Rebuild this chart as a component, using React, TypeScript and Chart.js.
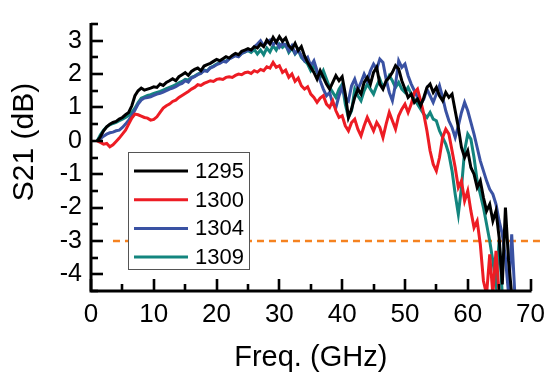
import { useEffect, useRef } from "react";
import { Chart, registerables } from "chart.js";

Chart.register(...registerables);

// Frequency samples (GHz)
const freqGHz = [
  1.0, 1.5, 2.0, 2.5, 3.0, 3.5, 4.0, 4.5, 5.0,
  5.5, 6.0, 6.5, 7.0, 7.5, 8.0, 8.5, 9.0, 9.5, 10.0,
  10.5, 11.0, 11.5, 12.0, 12.5, 13.0, 13.5, 14.0, 14.5, 15.0,
  15.5, 16.0, 16.5, 17.0, 17.5, 18.0, 18.5, 19.0, 19.5, 20.0,
  20.5, 21.0, 21.5, 22.0, 22.5, 23.0, 23.5, 24.0, 24.5, 25.0,
  25.5, 26.0, 26.5, 27.0, 27.5, 28.0, 28.5, 29.0, 29.5, 30.0,
  30.5, 31.0, 31.5, 32.0, 32.5, 33.0, 33.5, 34.0, 34.5, 35.0,
  35.5, 36.0, 36.5, 37.0, 37.5, 38.0, 38.5, 39.0, 39.5, 40.0,
  40.5, 41.0, 41.5, 42.0, 42.5, 43.0, 43.5, 44.0, 44.5, 45.0,
  45.5, 46.0, 46.5, 47.0, 47.5, 48.0, 48.5, 49.0, 49.5, 50.0,
  50.5, 51.0, 51.5, 52.0, 52.5, 53.0, 53.5, 54.0, 54.5, 55.0,
  55.5, 56.0, 56.5, 57.0, 57.5, 58.0, 58.5, 59.0, 59.5, 60.0,
  60.5, 61.0, 61.5, 62.0, 62.5, 63.0, 63.5, 64.0, 64.5, 65.0,
  65.5, 66.0, 66.5, 67.0, 67.5,
];

// S21 (dB) per device
const s21_1295 = [
  0.00, 0.12, 0.30, 0.42, 0.50, 0.55, 0.58, 0.65, 0.70,
  0.78, 0.85, 1.05, 1.35, 1.50, 1.58, 1.52, 1.55, 1.58, 1.62,
  1.60, 1.70, 1.66, 1.75, 1.80, 1.86, 1.80, 1.92, 1.98, 2.04,
  1.96, 2.08, 2.14, 2.18, 2.10, 2.24, 2.28, 2.32, 2.38, 2.44,
  2.40, 2.46, 2.52, 2.48, 2.56, 2.62, 2.58, 2.68, 2.72, 2.76,
  2.72, 2.82, 2.78, 2.90, 2.82, 3.02, 2.90, 3.10, 2.95, 3.12,
  2.98, 3.08, 2.85, 2.75, 2.92, 2.70, 2.82, 2.55, 2.35, 2.20,
  2.05, 1.85, 2.10, 1.90, 1.70, 1.55, 1.75, 1.95, 1.80, 1.92,
  1.40, 0.70, 0.95, 1.30, 1.55, 1.40, 1.75, 1.90, 1.70, 2.05,
  2.20, 1.70, 1.55, 1.80, 1.90, 2.05, 2.25, 2.15, 1.80, 1.55,
  1.30, 1.40, 1.15, 1.25, 1.05, 1.30, 1.60, 1.70, 1.45, 1.60,
  1.35, 1.20, 1.45, 1.30, 1.40, 0.90, 0.40, -0.20, -0.50, -0.30,
  -0.80, -1.00, -1.40, -1.20, -1.70, -2.10, -1.90, -2.40, -2.10, -2.90,
  -4.30, -2.00, -3.60, -4.60,
];

const s21_1300 = [
  0.00, -0.05, -0.10, -0.08, -0.18, -0.12, -0.02, 0.08, 0.20,
  0.32, 0.50, 0.68, 0.80, 0.78, 0.74, 0.70, 0.68, 0.62, 0.64,
  0.72, 0.85, 0.98, 1.05, 1.10, 1.18, 1.22, 1.30, 1.36, 1.42,
  1.48, 1.55, 1.60, 1.68, 1.66, 1.72, 1.76, 1.80, 1.78, 1.84,
  1.86, 1.84, 1.90, 1.92, 1.90, 1.96, 2.00, 1.98, 2.04, 2.06,
  2.02, 2.10, 2.06, 2.14, 2.10, 2.22, 2.18, 2.35, 2.20, 2.25,
  2.05, 2.12, 1.90, 2.00, 1.78, 1.88, 1.65, 1.55, 1.62, 1.40,
  1.30, 1.15, 1.28, 1.35, 1.10, 1.00, 1.20, 0.90, 0.70, 0.75,
  0.45, 0.30, 0.55, 0.65, 0.35, 0.15, 0.45, 0.70, 0.50, 0.30,
  0.55, 0.40, 0.10, 0.50, 0.85, 0.60, 0.35, 0.75, 0.95, 1.10,
  0.85, 1.10, 1.45, 1.55, 1.20, 0.80, 0.30, -0.30, -0.70, -0.90,
  -0.50, 0.10, 0.35, 0.20, -0.30, -0.80, -1.40, -1.20, -1.80, -1.50,
  -2.10, -2.60, -2.40, -3.10, -4.20, -4.60, -3.40, -4.60, -3.30, -4.60,
];

const s21_1304 = [
  0.00, 0.06, 0.14, 0.20, 0.24, 0.26, 0.30, 0.32, 0.40,
  0.50, 0.62, 0.75, 0.92, 1.10, 1.22, 1.28, 1.30, 1.32, 1.36,
  1.40, 1.42, 1.46, 1.50, 1.55, 1.58, 1.62, 1.68, 1.72, 1.80,
  1.76, 1.88, 1.92, 1.98, 2.02, 2.10, 2.08, 2.18, 2.22, 2.28,
  2.32, 2.38, 2.36, 2.45, 2.50, 2.55, 2.52, 2.62, 2.66, 2.72,
  2.70, 2.82, 2.90, 3.00, 2.85, 2.95, 3.02, 2.88, 2.98, 2.80,
  2.92, 2.86, 2.70, 2.85, 2.62, 2.72, 2.55, 2.40, 2.50, 2.25,
  2.40, 2.10, 1.80, 1.55, 1.35, 1.45, 1.10, 1.00, 1.35, 1.60,
  1.30, 1.20, 1.65, 1.85, 1.55, 1.75, 2.00, 1.80, 2.10, 2.30,
  2.15, 2.45, 2.35, 1.85, 1.45, 1.20, 1.70, 2.40, 2.20, 2.30,
  1.95, 1.70, 1.50, 1.30, 1.10, 1.25, 1.55, 1.35, 1.15, 1.40,
  1.65, 1.30, 0.90, 0.60, 0.40, 0.10, 0.45, 0.85, 1.15, 0.90,
  0.55, 0.20, -0.20, -0.60, -0.90, -1.20, -1.45, -1.60, -1.90, -2.40,
  -2.80, -3.50, -4.60, -2.80, -4.60,
];

const s21_1309 = [
  0.00, 0.18, 0.32, 0.42, 0.48, 0.52, 0.55, 0.60, 0.65,
  0.70, 0.76, 0.85, 0.98, 1.15, 1.28, 1.32, 1.36, 1.38, 1.42,
  1.45, 1.48, 1.52, 1.56, 1.60, 1.64, 1.68, 1.74, 1.78, 1.84,
  1.82, 1.90, 1.94, 2.00, 2.04, 2.12, 2.10, 2.20, 2.24, 2.30,
  2.34, 2.40, 2.38, 2.46, 2.52, 2.56, 2.54, 2.62, 2.66, 2.70,
  2.65, 2.74, 2.60, 2.72, 2.58, 2.78, 2.66, 2.85, 2.72, 2.90,
  2.80, 2.88, 2.65, 2.78, 2.60, 2.72, 2.50, 2.40, 2.30, 2.10,
  2.25, 2.05, 1.90, 2.10, 1.85, 1.60, 1.45, 1.30, 1.55, 1.70,
  1.10, 0.70, 0.90, 1.55, 1.35, 1.20, 1.50, 1.70, 1.55, 1.40,
  1.65, 1.85, 1.60, 1.75, 1.95, 1.80, 1.60, 1.75, 1.55, 1.45,
  1.60, 1.40, 1.25, 1.10, 0.95, 0.80, 0.70, 0.85, 0.65, 0.60,
  0.30, 0.10, -0.10, -0.40, -0.90, -1.60, -2.20, -1.40, -0.30, 0.20,
  0.05, -0.50, -1.20, -1.60, -2.00, -2.50, -3.00, -3.60, -4.30, -3.00,
  -4.60,
];

const seriesLabels = ["1295", "1300", "1304", "1309"];
const seriesValues = [s21_1295, s21_1300, s21_1304, s21_1309];
const seriesColors = ["#000000", "#ED1C24", "#3A52A3", "#13857E"];

const xTickValues = [0, 10, 20, 30, 40, 50, 60, 70];
const yTickValues = [-4, -3, -2, -1, 0, 1, 2, 3];
const xRange = [0, 70];
const yRange = [-4.5, 3.5];

// -3 dB reference line
const refLevelDb = -3;
const refSpanGHz = [3.5, 71.5];

const xTitle = "Freq. (GHz)";
const yTitle = "S21 (dB)";

const FONT = "'Liberation Sans', Arial, Helvetica, sans-serif";

const decorPlugin = {
  id: "decor",
  afterDatasetsDraw(chart: any) {
    const { ctx, chartArea: a, scales } = chart;
    const xs = scales.x;
    const ys = scales.y;
    ctx.save();
    ctx.strokeStyle = "#000";
    ctx.lineCap = "butt";
    ctx.lineWidth = 2.6;
    // x ticks (inward)
    for (let v = xRange[0]; v <= xRange[1] + 1e-9; v += 5) {
      const px = Math.round(xs.getPixelForValue(v));
      const len = v % 10 === 0 ? 12 : 7;
      ctx.beginPath();
      ctx.moveTo(px, a.bottom);
      ctx.lineTo(px, a.bottom - len);
      ctx.stroke();
    }
    // y ticks (inward)
    for (let v = yRange[0]; v <= yRange[1] + 1e-9; v += 0.5) {
      const py = Math.round(ys.getPixelForValue(v));
      const len = Math.abs(v - Math.round(v)) < 1e-9 ? 12 : 7;
      ctx.beginPath();
      ctx.moveTo(a.left, py);
      ctx.lineTo(a.left + len, py);
      ctx.stroke();
    }
    // axis lines
    ctx.lineWidth = 3;
    ctx.beginPath();
    ctx.moveTo(a.left, a.top - 1);
    ctx.lineTo(a.left, a.bottom);
    ctx.lineTo(a.right + 1, a.bottom);
    ctx.stroke();

    // legend
    const lx = 128.5, ly = 152.5, lw = 121, lh = 117;
    ctx.fillStyle = "#fff";
    ctx.fillRect(lx, ly, lw, lh);
    ctx.strokeStyle = "#555";
    ctx.lineWidth = 1;
    ctx.strokeRect(lx, ly, lw, lh);
    ctx.font = `22px ${FONT}`;
    ctx.textBaseline = "middle";
    ctx.textAlign = "left";
    chart.data.datasets.forEach((ds: any, i: number) => {
      if (!ds.showInLegend) return;
      const cy = 171 + i * 28.7;
      ctx.strokeStyle = ds.borderColor;
      ctx.lineWidth = 3;
      ctx.beginPath();
      ctx.moveTo(134, cy);
      ctx.lineTo(188, cy);
      ctx.stroke();
      ctx.fillStyle = "#000";
      ctx.fillText(ds.label, 195, cy + 1);
    });

    // axis titles
    ctx.fillStyle = "#000";
    ctx.font = `29px ${FONT}`;
    ctx.textAlign = "center";
    ctx.textBaseline = "middle";
    ctx.fillText(xTitle, (a.left + a.right) / 2, 358);
    ctx.save();
    ctx.translate(25, 142);
    ctx.rotate(-Math.PI / 2);
    ctx.font = `30px ${FONT}`;
    ctx.fillText(yTitle, 0, 0);
    ctx.restore();
    ctx.restore();
  },
};

export default function App() {
  const ref = useRef<HTMLCanvasElement | null>(null);
  useEffect(() => {
    if (!ref.current) return;
    const datasets: any[] = seriesValues.map((vals, i) => ({
      label: seriesLabels[i],
      showInLegend: true,
      data: vals.map((v, j) => ({ x: freqGHz[j], y: v })),
      borderColor: seriesColors[i],
      backgroundColor: seriesColors[i],
      borderWidth: 3,
      pointRadius: 0,
      tension: 0,
      fill: false,
    }));
    datasets.push({
      label: "-3 dB",
      showInLegend: false,
      data: refSpanGHz.map((f) => ({ x: f, y: refLevelDb })),
      borderColor: "#F58220",
      borderWidth: 2.5,
      borderDash: [7, 5],
      pointRadius: 0,
      clip: false,
      fill: false,
    });
    const chart = new Chart(ref.current, {
      type: "line",
      data: { datasets },
      options: {
        animation: false,
        responsive: false,
        devicePixelRatio: 1,
        layout: { padding: { left: 0, right: 17, top: 16, bottom: 0 } },
        plugins: { legend: { display: false }, tooltip: { enabled: false } },
        scales: {
          x: {
            type: "linear",
            min: xRange[0],
            max: xRange[1],
            grid: { display: false, drawTicks: false },
            border: { display: false },
            afterFit: (s: any) => {
              s.height = 83;
            },
            afterBuildTicks: (s: any) => {
              s.ticks = xTickValues.map((v) => ({ value: v }));
            },
            ticks: {
              padding: 8,
              color: "#000",
              font: { family: FONT, size: 26 },
              maxRotation: 0,
              autoSkip: false,
            },
          },
          y: {
            type: "linear",
            min: yRange[0],
            max: yRange[1],
            grid: { display: false, drawTicks: false },
            border: { display: false },
            afterFit: (s: any) => {
              s.width = 91;
            },
            afterBuildTicks: (s: any) => {
              s.ticks = yTickValues.map((v) => ({ value: v }));
            },
            ticks: {
              padding: 9,
              color: "#000",
              font: { family: FONT, size: 25 },
              autoSkip: false,
              callback: (v: any) => String(v),
            },
          },
        },
      },
      plugins: [decorPlugin],
    });
    return () => chart.destroy();
  }, []);
  return (
    <div style={{ position: "absolute", left: 0, top: 0, width: 553, height: 374, background: "#fff" }}>
      <canvas ref={ref} width={553} height={374} style={{ display: "block" }} />
    </div>
  );
}
